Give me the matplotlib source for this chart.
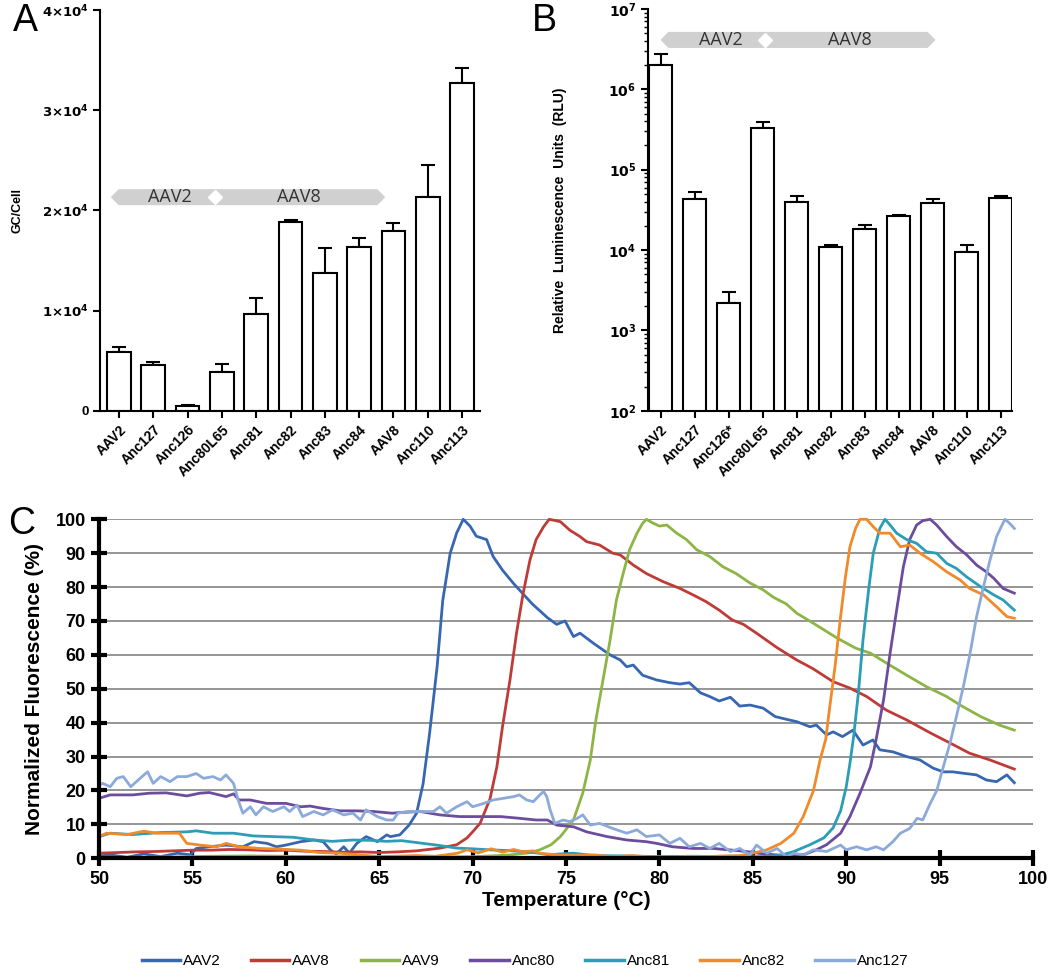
import numpy as np
import matplotlib
matplotlib.use("Agg")
from matplotlib import pyplot as plt
from matplotlib.patches import Polygon
from matplotlib.lines import Line2D
from matplotlib.transforms import blended_transform_factory
from matplotlib.ticker import LogLocator, NullFormatter, FuncFormatter

plt.rcParams['font.family'] = ['Liberation Sans', 'DejaVu Sans']

# ---- panel A / B data ----
capsids_a = ['AAV2', 'Anc127', 'Anc126', 'Anc80L65', 'Anc81', 'Anc82',
             'Anc83', 'Anc84', 'AAV8', 'Anc110', 'Anc113']
capsids_b = ['AAV2', 'Anc127', 'Anc126*', 'Anc80L65', 'Anc81', 'Anc82',
             'Anc83', 'Anc84', 'AAV8', 'Anc110', 'Anc113']
gc_per_cell = [5830, 4540, 460, 3870, 9670, 18800, 13780, 16360, 17980, 21340, 32760]
gc_err = [530, 360, 140, 830, 1590, 200, 2510, 890, 790, 3180, 1500]
rlu = [2.03e6, 4.36e4, 2.19e3, 3.3e5, 3.92e4, 1.09e4, 1.82e4, 2.62e4, 3.85e4, 9.45e3, 4.45e4]
rlu_err = [0.70e6, 0.91e4, 0.81e3, 0.62e5, 0.73e4, 0.06e4, 0.21e4, 0.13e4, 0.51e4, 1.95e3, 0.2e4]

# ---- panel C data: (temperature, normalized fluorescence) ----
aav2_pts = [(50, 0.7), (50.6, 1.0), (51.5, 0.3), (52.4, 1.3), (53.3, 0.5), (54.2, 1.5), (54.9, 1.0),
            (55.2, 2.9), (55.9, 3.4), (56.8, 3.9), (57.7, 3.4), (58.3, 4.9), (59.0, 4.4), (59.5, 3.4),
            (60.0, 3.9), (60.8, 4.9), (61.5, 5.4), (62.0, 4.9), (62.4, 2.4), (62.7, 1.3), (63.1, 3.4),
            (63.4, 1.5), (63.8, 4.4), (64.3, 6.4), (64.9, 4.9), (65.4, 6.9), (65.6, 6.4), (66.1, 6.9),
            (66.6, 9.8), (67.0, 13.3), (67.35, 22), (67.7, 37), (68.1, 56.5), (68.4, 76), (68.8, 90),
            (69.15, 96), (69.5, 100), (69.86, 98), (70.2, 95), (70.75, 94), (71.1, 89), (71.6, 85),
            (72.2, 81), (72.7, 78), (73.2, 75), (73.6, 73), (74.0, 71), (74.5, 69), (74.95, 70),
            (75.4, 65.4), (75.75, 66.4), (76.45, 63.5), (77.36, 60), (77.9, 58.5), (78.25, 56.5),
            (78.6, 57), (79.1, 54), (79.85, 52.6), (80.56, 51.8), (81.1, 51.4), (81.6, 51.8),
            (82.2, 48.8), (82.7, 47.7), (83.2, 46.4), (83.8, 47.5), (84.3, 44.9), (84.85, 45.2),
            (85.55, 44.3), (86.2, 41.8), (86.8, 41.0), (87.35, 40.3), (88.06, 38.8), (88.4, 39.3),
            (88.95, 36.4), (89.3, 37.3), (89.8, 35.9), (90.36, 37.8), (90.9, 33.4), (91.43, 34.9),
            (91.8, 32), (92.5, 31.4), (93.24, 30), (93.95, 29), (94.65, 26.6), (95.2, 25.5),
            (95.7, 25.5), (96.25, 25.1), (96.98, 24.6), (97.5, 23.1), (98.05, 22.6), (98.6, 24.6),
            (99.0, 22.3)]
aav8_pts = [(50, 1.5), (51, 1.7), (52, 1.9), (53, 2.0), (54, 2.2), (55, 2.4), (56, 2.4), (57, 2.6),
            (58, 2.5), (59, 2.3), (60, 2.4), (61, 2.1), (62, 2.0), (63, 1.8), (64, 1.9), (65, 1.7),
            (66, 1.9), (67, 2.2), (68.25, 3.0), (69.15, 4.0), (69.7, 6.0), (70.0, 7.8), (70.4, 10.3),
            (70.93, 17.5), (71.3, 27), (71.6, 38.8), (72.0, 52.6), (72.35, 66.4), (72.7, 78),
            (73.07, 88), (73.4, 94), (73.8, 97.8), (74.1, 100), (74.7, 99.3), (75.2, 96.8),
            (75.75, 94.9), (76.1, 93.4), (76.8, 92.4), (77.5, 90), (77.9, 89.5), (78.6, 86.5),
            (79.3, 84), (80.2, 81.6), (81.1, 79.6), (81.8, 77.7), (82.5, 75.7), (83.2, 73.2),
            (83.9, 70.3), (84.5, 69.0), (85.2, 66.4), (86.28, 62.2), (87.35, 58.5), (88.2, 56),
            (89.3, 52.1), (90.2, 50.2), (91.1, 47.7), (92.15, 43.7), (93.24, 40.8), (94.5, 37),
            (95.56, 34), (96.6, 31), (97.7, 29), (99.0, 26.3)]
aav9_pts = [(50, 0.2), (52, 0.3), (54, 0.4), (56, 0.6), (58, 0.7), (60, 0.6), (62, 0.5), (64, 0.5),
            (66, 0.4), (68, 0.4), (70, 0.5), (71, 0.7), (72, 1.0), (73, 1.6), (73.6, 2.5), (74.2, 4.0),
            (74.7, 6.4), (75.4, 11.3), (75.9, 19.3), (76.3, 29), (76.6, 40.8), (76.98, 52.6),
            (77.36, 64.4), (77.7, 76.2), (78.06, 84), (78.4, 91), (78.8, 95.9), (79.1, 98.8),
            (79.3, 100), (79.65, 98.9), (80.0, 98), (80.4, 98.3), (80.9, 96), (81.45, 94), (82.0, 91),
            (82.7, 89), (83.4, 86), (84.1, 84), (84.85, 81.2), (85.55, 79.2), (86.1, 77), (86.8, 75),
            (87.35, 72.3), (88.4, 68.8), (89.5, 65), (90.5, 62), (91.3, 60.5), (92.15, 57.6),
            (93.24, 54), (94.3, 50.6), (95.38, 47.7), (96.1, 45.2), (97.2, 41.8), (98.2, 39.3),
            (99.0, 37.8)]
anc80_pts = [(50, 17.7), (50.6, 18.7), (51.8, 18.7), (52.7, 19.2), (53.6, 19.3), (54.7, 18.4),
             (55.4, 19.2), (55.9, 19.4), (56.8, 18.2), (57.2, 19.0), (57.5, 17.2), (58.1, 17.2),
             (58.97, 16.2), (60.0, 16.2), (60.8, 15.2), (61.3, 15.4), (62.0, 14.7), (62.9, 14.0),
             (63.8, 14.0), (64.7, 13.8), (65.7, 13.3), (66.1, 13.5), (67.2, 13.8), (68.25, 12.8),
             (69.3, 12.3), (70.4, 12.3), (71.5, 12.3), (72.5, 11.8), (73.4, 11.3), (74.0, 11.3),
             (74.5, 9.8), (75.4, 9.3), (76.1, 7.8), (77.2, 6.4), (78.25, 5.4), (79.3, 4.9),
             (79.85, 4.4), (80.7, 3.4), (81.8, 2.9), (82.9, 2.9), (83.9, 2.4), (84.65, 2.0),
             (85.55, 1.3), (86.3, 1.0), (87.0, 0.8), (87.8, 1.2), (88.4, 2.5), (88.95, 4.0),
             (89.7, 7.4), (90.2, 12.3), (90.74, 19.2), (91.3, 27), (91.6, 35), (92.0, 46.7),
             (92.35, 60.5), (92.7, 73.2), (93.06, 86), (93.4, 94), (93.77, 98.3), (94.1, 99.6),
             (94.5, 100), (94.84, 98.3), (95.38, 94.9), (95.9, 91.9), (96.45, 89.5), (96.98, 86.5),
             (97.5, 84.5), (97.9, 82.6), (98.4, 79.6), (99.0, 78.2)]
anc81_pts = [(50, 6.4), (50.6, 7.4), (51.8, 7.0), (53.3, 7.6), (54.7, 7.8), (55.2, 8.1), (56.1, 7.4),
             (57.2, 7.4), (58.25, 6.6), (59.3, 6.4), (60.4, 6.2), (61.5, 5.4), (62.5, 5.0), (63.6, 5.4),
             (64.5, 5.3), (65.4, 5.0), (66.2, 5.2), (67.35, 4.4), (68.2, 3.8), (69.15, 3.0), (70.0, 2.8),
             (70.9, 2.5), (71.8, 2.3), (72.7, 2.0), (73.4, 1.6), (74.1, 1.0), (74.7, 1.3), (75.4, 1.5),
             (76.5, 0.8), (78, 0.7), (80, 0.5), (82, 0.6), (84, 0.4), (85.5, 0.5), (86.5, 0.9),
             (87.2, 2.0), (88.06, 4.0), (88.8, 6.0), (89.3, 9.0), (89.7, 14), (90.0, 21), (90.2, 28),
             (90.4, 36), (90.65, 48.7), (90.9, 64.4), (91.2, 79.2), (91.45, 90), (91.8, 97.3),
             (92.08, 100), (92.35, 98.3), (92.7, 95.9), (93.24, 94), (93.77, 92.9), (94.3, 90.4),
             (94.84, 90), (95.38, 87), (95.9, 85.5), (96.45, 83), (97.2, 80.1), (97.9, 77.7),
             (98.4, 76.2), (99.0, 73.2)]
anc82_pts = [(50, 6.4), (50.4, 7.4), (51.5, 7.0), (52.4, 8.0), (53.1, 7.4), (54.0, 7.4), (54.3, 7.4),
             (54.7, 4.4), (55.4, 3.9), (56.3, 3.4), (56.8, 4.4), (57.5, 3.4), (58.6, 2.9), (59.7, 2.7),
             (60.8, 2.4), (61.8, 1.7), (62.9, 1.5), (64.0, 1.0), (65.0, 0.5), (65.75, 0.6), (67, 0.8),
             (68, 0.6), (69.2, 1.5), (69.7, 2.5), (70.3, 1.6), (71, 2.8), (71.6, 1.8), (72.2, 2.6),
             (72.7, 1.9), (73.2, 2.2), (73.6, 1.5), (74.5, 1.0), (75.5, 0.8), (76.5, 1.0), (77.5, 0.5),
             (78.5, 0.8), (79.5, 0.4), (80.5, 0.3), (81.5, 0.6), (82.5, 0.5), (83.5, 0.7), (84.3, 0.8),
             (85.0, 1.5), (85.75, 2.5), (86.5, 4.4), (87.2, 7.4), (87.7, 12.3), (88.25, 20), (88.6, 29),
             (88.9, 35), (89.1, 43.8), (89.4, 56.5), (89.7, 71.3), (89.96, 83), (90.2, 91.9),
             (90.5, 97.3), (90.74, 100), (91.1, 100), (91.45, 97.8), (91.8, 95.9), (92.35, 95.9),
             (92.9, 91.9), (93.4, 92.4), (93.95, 90), (94.66, 87.5), (95.38, 84.5), (96.1, 82.1),
             (96.6, 79.6), (97.35, 77.7), (98.05, 74.2), (98.6, 71.3), (99.0, 70.8)]
anc127_pts = [(50, 21.6), (50.2, 22.1), (50.6, 21.1), (50.95, 23.6), (51.3, 24.1), (51.7, 21.1),
              (52.2, 23.6), (52.6, 25.5), (52.9, 22.1), (53.3, 24.1), (53.8, 22.6), (54.2, 24.1),
              (54.7, 24.1), (55.2, 25.0), (55.6, 23.6), (56.1, 24.1), (56.5, 23.1), (56.8, 24.6),
              (57.2, 22.1), (57.45, 17.2), (57.7, 13.3), (58.1, 15.2), (58.4, 12.8), (58.8, 15.2),
              (59.3, 13.8), (59.9, 15.2), (60.2, 13.8), (60.6, 15.7), (60.9, 12.3), (61.5, 13.8),
              (62.0, 12.8), (62.5, 14.3), (63.1, 12.8), (63.6, 13.3), (64.0, 11.3), (64.3, 14.3),
              (64.9, 12.3), (65.4, 11.3), (65.75, 11.3), (66.0, 13.3), (66.5, 13.8), (67.2, 13.8),
              (67.9, 13.8), (68.25, 15.2), (68.6, 13.3), (69.15, 15.2), (69.7, 16.7), (70.0, 15.2),
              (70.6, 16.2), (71.1, 17.2), (71.65, 17.7), (72.2, 18.2), (72.5, 18.7), (72.9, 17.2),
              (73.25, 16.7), (73.6, 18.7), (73.8, 19.7), (73.97, 18.2), (74.15, 14.3), (74.4, 10.3),
              (74.85, 11.3), (75.2, 10.8), (75.6, 11.8), (75.9, 12.8), (76.3, 9.8), (76.8, 10.3),
              (77.5, 8.8), (78.25, 7.4), (78.8, 8.4), (79.3, 6.4), (80.0, 6.9), (80.56, 4.4),
              (81.1, 5.9), (81.6, 3.4), (82.2, 4.4), (82.7, 2.9), (83.2, 4.4), (83.8, 2.0), (84.3, 2.9),
              (84.85, 1.0), (85.2, 3.9), (85.75, 1.5), (86.3, 2.9), (86.8, 0.5), (87.2, 1.5),
              (87.7, 1.0), (88.25, 2.5), (88.95, 2.0), (89.7, 3.9), (90.0, 2.5), (90.55, 3.4),
              (91.1, 2.5), (91.6, 3.4), (92.0, 2.5), (92.5, 4.9), (92.9, 7.4), (93.4, 8.8), (93.8, 11.8),
              (94.1, 11.3), (94.5, 16.2), (94.85, 20), (95.2, 27), (95.56, 34), (95.9, 41.8),
              (96.27, 50.6), (96.6, 59.5), (96.98, 71.3), (97.35, 80.1), (97.7, 88), (98.05, 94.9),
              (98.3, 97.8), (98.5, 100), (98.75, 98.8), (99.0, 97.3)]

series_names = ['AAV2', 'AAV8', 'AAV9', 'Anc80', 'Anc81', 'Anc82', 'Anc127']
series_pts = [aav2_pts, aav8_pts, aav9_pts, anc80_pts, anc81_pts, anc82_pts, anc127_pts]
series_colors = ['#3767b1', '#bf3b37', '#8db545', '#6c4c9c', '#2b9db6', '#f08a2a', '#8caad9']


def banner(ax, x0, x1, xd, yc, h, tip, labels):
  # grey double-headed strip with a white diamond at the junction
  trans = blended_transform_factory(ax.transData, ax.transAxes)
  pts = [(x0, yc), (x0 + tip, yc + h / 2), (x1 - tip, yc + h / 2), (x1, yc),
         (x1 - tip, yc - h / 2), (x0 + tip, yc - h / 2)]
  ax.add_patch(Polygon(pts, closed=True, transform=trans, fc='#d0d0d0', ec='none',
                       clip_on=False, zorder=5))
  ax.plot([xd], [yc], marker='D', color='white', ms=7, mec='white', transform=trans,
          clip_on=False, zorder=6)
  for lx, txt in labels:
    ax.text(lx, yc, txt, transform=trans, ha='center', va='center', fontsize=13,
            family=['Open Sans', 'DejaVu Sans'], color='#333333', zorder=7)


def style_bar_axes(ax):
  for s in ['top', 'right']:
    ax.spines[s].set_visible(False)
  for s in ['left', 'bottom']:
    ax.spines[s].set_linewidth(1.5)
  ax.tick_params(axis='both', width=1.5, length=5, direction='out')


fig = plt.figure(figsize=(10.5, 9.77), dpi=100)

# ---- panel A ----
axA = fig.add_axes([0.0957, 0.5796, 0.3614, 0.4101])
xa = np.arange(len(capsids_a))
axA.bar(xa, gc_per_cell, width=0.69, color='white', edgecolor='black', linewidth=1.5, zorder=2)
axA.errorbar(xa, gc_per_cell, yerr=[np.zeros(len(gc_err)), gc_err], fmt='none', ecolor='black',
             elinewidth=1.5, capsize=5, capthick=1.5, zorder=1)
axA.set_xlim(-0.54, 10.52)
axA.set_ylim(0, 40000)
axA.set_yticks([0, 10000, 20000, 30000, 40000])
axA.set_yticklabels(['0'] + [r'$\mathbf{%d{\times}10^{4}}$' % k for k in range(1, 5)],
                    fontsize=9.5, fontweight='bold')
axA.set_xticks(xa)
axA.set_xticklabels(capsids_a, rotation=45, ha='right', rotation_mode='anchor',
                    fontsize=10, fontweight='bold')
style_bar_axes(axA)
axA.set_ylabel('GC/Cell', fontsize=9, fontweight='bold', labelpad=13)
banner(axA, -0.24, 7.76, 2.8, 0.533, 0.04, 0.23, [(1.49, 'AAV2'), (5.25, 'AAV8')])

# ---- panel B ----
axB = fig.add_axes([0.6171, 0.5796, 0.3467, 0.4112])
xb = np.arange(len(capsids_b))
axB.set_yscale('log')
axB.bar(xb, rlu, width=0.68, color='white', edgecolor='black', linewidth=1.5, zorder=2)
axB.errorbar(xb, rlu, yerr=[np.zeros(len(rlu_err)), rlu_err], fmt='none', ecolor='black',
             elinewidth=1.5, capsize=5, capthick=1.5, zorder=1)
axB.set_xlim(-0.37, 10.33)
axB.set_ylim(1e2, 1e7)
axB.yaxis.set_major_locator(LogLocator(base=10, numticks=10))
axB.yaxis.set_minor_locator(LogLocator(base=10, subs=np.arange(2, 10), numticks=50))
axB.yaxis.set_minor_formatter(NullFormatter())
axB.yaxis.set_major_formatter(FuncFormatter(lambda v, p: r'$\mathbf{10^{%d}}$' % round(np.log10(v))))
axB.set_xticks(xb)
axB.set_xticklabels(capsids_b, rotation=45, ha='right', rotation_mode='anchor',
                    fontsize=10, fontweight='bold')
style_bar_axes(axB)
axB.tick_params(axis='y', which='minor', width=1.0, length=3)
for t in axB.get_yticklabels():
  t.set_fontsize(10)
axB.set_ylabel('Relative  Luminescence  Units  (RLU)', fontsize=10, fontweight='bold', labelpad=30)
banner(axB, 0.0, 8.08, 3.08, 0.923, 0.04, 0.23, [(1.76, 'AAV2'), (5.57, 'AAV8')])

# ---- panel C ----
axC = fig.add_axes([0.0943, 0.1215, 0.8895, 0.347])
for name, pts, col in zip(series_names, series_pts, series_colors):
  t, f = zip(*pts)
  axC.plot(t, f, color=col, lw=2.0, label=name, clip_on=False, zorder=3)
axC.set_xlim(50, 100)
axC.set_ylim(0, 100)
axC.set_xticks(np.arange(50, 101, 5))
axC.set_yticks(np.arange(0, 101, 10))
axC.yaxis.grid(True, color='#8c8c8c', lw=1.3)
axC.set_axisbelow(True)
for s in ['top', 'right']:
  axC.spines[s].set_visible(False)
for s in ['left', 'bottom']:
  axC.spines[s].set_linewidth(3)
  axC.spines[s].set_zorder(4)
axC.tick_params(axis='both', direction='inout', length=11, width=3, labelsize=13, pad=4)
for t in axC.get_xticklabels() + axC.get_yticklabels():
  t.set_fontweight('bold')
axC.set_xlabel('Temperature (°C)', fontsize=15, fontweight='bold', labelpad=2)
axC.set_ylabel('Normalized Fluorescence (%)', fontsize=15, fontweight='bold', labelpad=8)

handles = [Line2D([], [], color=c, lw=2.5) for c in series_colors]
fig.legend(handles, series_names, loc='center', bbox_to_anchor=(0.5, 0.016), ncol=7,
           frameon=False, handlelength=2.5, handletextpad=0.2, columnspacing=2.0,
           prop={'size': 11})

# panel letters
fig.text(0.012, 0.997, 'A', fontsize=27, va='top', ha='left')
fig.text(0.507, 0.997, 'B', fontsize=27, va='top', ha='left')
fig.text(0.008, 0.482, 'C', fontsize=27, va='top', ha='left')

fig.savefig('out.png', dpi=100)
